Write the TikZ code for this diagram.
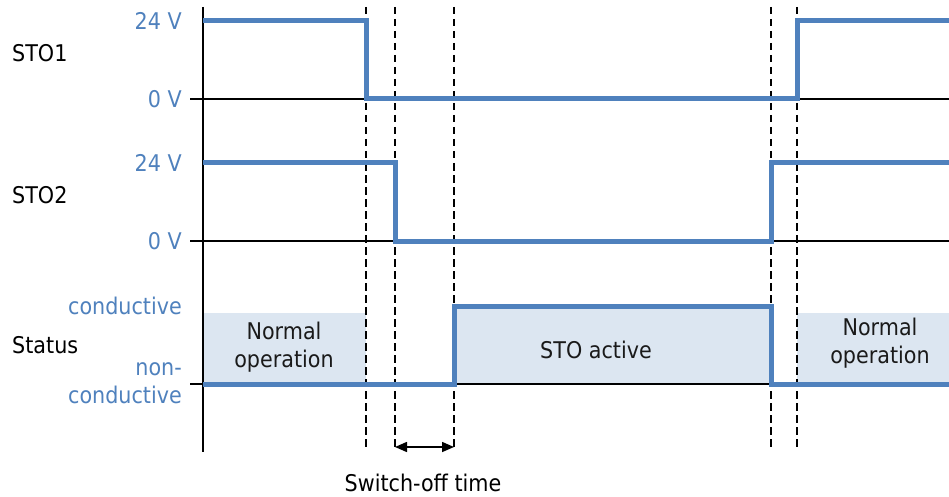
\documentclass[tikz,border=0pt]{standalone}
\usepackage{fontspec}
\setmainfont{DejaVu Sans}[FakeStretch=0.9]
\usetikzlibrary{arrows.meta}
\usepackage{xcolor}
\definecolor{sigblue}{HTML}{4F81BD}
\definecolor{areablue}{HTML}{DCE6F1}
\definecolor{textdark}{HTML}{1A1A1A}

\begin{document}
\begin{tikzpicture}[x=1pt, y=-1pt, font=\fontsize{23}{28}\selectfont, inner sep=1pt,
		signal/.style={sigblue, line width=5pt},
		level/.style={sigblue, anchor=east},
		channel/.style={anchor=west},
		axisline/.style={line width=1.8pt},
		marker/.style={line width=1.5pt, dash pattern=on 7.5pt off 4.5pt},
		phase/.style={textdark, align=center}]
	
	\useasboundingbox (0,0) rectangle (949,497);
	
	% shaded phases of the status
	\fill[areablue] (203,313) rectangle (366,384);
	\fill[areablue] (454,306) rectangle (771,384);
	\fill[areablue] (797,313) rectangle (949,384);
	
	% axis and zero lines
	\draw[axisline] (203,7) -- (203,452);
	\foreach \y in {99, 241, 384}{
		\draw[axisline] (190,\y) -- (949,\y);
	}
	
	% time markers
	\foreach \x in {366, 395, 454, 771, 797}{
		\draw[marker] (\x,7) -- (\x,450);
	}
	
	% signals
	\draw[signal] (203,21) -- (366,21) -- (366,99) -- (797,99) -- (797,21) -- (949,21);
	\draw[signal] (203,163) -- (395,163) -- (395,241) -- (771,241) -- (771,163) -- (949,163);
	\draw[signal] (203,384) -- (454,384) -- (454,306) -- (771,306) -- (771,384) -- (949,384);
	
	% levels
	\node[level] (hiA) at (183,21) {24 V};
	\node[level] (loA) at (183,99) {0 V};
	\node[level] (hiB) at (183,163) {24 V};
	\node[level] (loB) at (183,241) {0 V};
	\node[level] (hiC) at (183,306) {conductive};
	\node[level, align=right] (loC) at (183,383) {non-\\conductive};
	
	% channels
	\node[channel] (stoA) at (11,53) {STO1};
	\node[channel] (stoB) at (11,195) {STO2};
	\node[channel] (status) at (11,345) {Status};
	
	% phases
	\node[phase] (normL) at (284,347) {Normal\\operation};
	\node[phase] (active) at (596,350) {STO active};
	\node[phase] (normR) at (880,343) {Normal\\operation};
	
	% switch-off time
	\coordinate (offA) at (395,447);
	\coordinate (offB) at (454,447);
	\draw[line width=1.5pt, {Triangle[length=12pt, width=10pt]}-{Triangle[length=12pt, width=10pt]}] (offA) -- (offB);
	\node (swoff) at (423,483) {Switch-off time};
	
\end{tikzpicture}
\end{document}
